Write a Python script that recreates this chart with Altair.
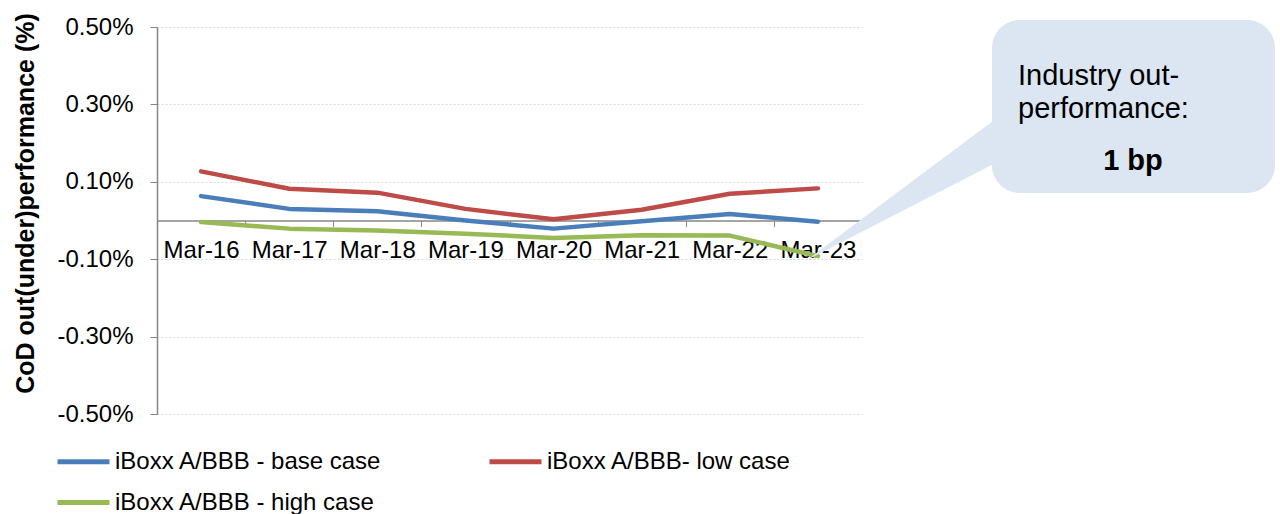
import altair as alt
import pandas as pd

categories = ["Mar-16", "Mar-17", "Mar-18", "Mar-19", "Mar-20", "Mar-21", "Mar-22", "Mar-23"]
base_case = [0.063, 0.030, 0.024, 0.000, -0.021, -0.002, 0.017, -0.003]
low_case = [0.127, 0.082, 0.072, 0.030, 0.003, 0.028, 0.069, 0.083]
high_case = [-0.004, -0.021, -0.026, -0.034, -0.045, -0.038, -0.039, -0.092]
series_names = ["iBoxx A/BBB - base case", "iBoxx A/BBB- low case", "iBoxx A/BBB - high case"]
series_colors = ["#4A7EBB", "#BE4B48", "#98B954"]
y_ticks = [-0.5, -0.3, -0.1, 0.1, 0.3, 0.5]
callout_lines = ["Industry out-", "performance:"]
callout_value = "1 bp"
y_title = "CoD out(under)performance (%)"

rows = []
for i, (name, vals) in enumerate(zip(series_names, [base_case, low_case, high_case])):
    for c, v in zip(categories, vals):
        rows.append({"cat": c, "value": v, "series": name, "order": i})
df = pd.DataFrame(rows)
one = pd.DataFrame({"k": [0]})

W, H = 705, 387
FONT = "Liberation Sans"

lines = alt.Chart(df).mark_line(strokeWidth=4.5, strokeCap="round", strokeJoin="round").encode(
    x=alt.X("cat:N", sort=categories, bandPosition=0.5,
            scale=alt.Scale(type="band", paddingInner=0, paddingOuter=0),
            axis=alt.Axis(title=None, orient="bottom", offset=-H / 2, tickBand="extent",
                          labelAngle=0, labelFontSize=24, labelFont=FONT, labelColor="black",
                          labelPadding=12, tickSize=6, tickColor="#868686",
                          domainColor="#868686", domainWidth=1.5, grid=False)),
    y=alt.Y("value:Q", scale=alt.Scale(domain=[-0.5, 0.5], nice=False),
            axis=alt.Axis(values=y_ticks, title=y_title,
                          labelExpr="(datum.value < 0 ? '-' : '') + format(abs(datum.value), '.2f') + '%'",
                          labelFontSize=24, labelFont=FONT, labelColor="black", labelPadding=17,
                          tickSize=7, tickColor="#868686", domainColor="#868686", domainWidth=1.5,
                          gridColor="#D9D9D9", gridDash=[2, 2], gridWidth=1,
                          titleFont=FONT, titleFontSize=25, titleFontWeight="bold", titleColor="black",
                          titleAngle=270, titleBaseline="alphabetic", titleAlign="center",
                          titleX=-124, titleY=176)),
    color=alt.Color("series:N",
                    scale=alt.Scale(domain=series_names, range=series_colors),
                    legend=alt.Legend(orient="none", legendX=-102, legendY=406, columns=2,
                                      direction="horizontal", values=series_names,
                                      title=None, symbolType="stroke", symbolSize=2704,
                                      symbolStrokeWidth=5, labelFontSize=24, labelFont=FONT,
                                      labelColor="black", labelLimit=0, labelOffset=3,
                                      columnPadding=97, rowPadding=-1)),
    detail="order:O",
)

pointer = alt.Chart(one).mark_point(
    shape="M0,0 L210,-157 L210,-108 Z", size=4, filled=True, opacity=1,
    color="#DCE6F2", strokeWidth=0
).encode(x=alt.value(650), y=alt.value(233))

box = alt.Chart(one).mark_rect(cornerRadius=28, color="#DCE6F2").encode(
    x=alt.value(835), x2=alt.value(1118), y=alt.value(-7), y2=alt.value(166))

t1 = alt.Chart(one).mark_text(align="left", baseline="alphabetic", fontSize=29, font=FONT, color="black").encode(
    x=alt.value(861), y=alt.value(58), text=alt.value(callout_lines[0]))
t2 = alt.Chart(one).mark_text(align="left", baseline="alphabetic", fontSize=29, font=FONT, color="black").encode(
    x=alt.value(861), y=alt.value(91), text=alt.value(callout_lines[1]))
t3 = alt.Chart(one).mark_text(align="center", baseline="alphabetic", fontSize=29, font=FONT,
                              fontWeight="bold", color="black").encode(
    x=alt.value(976), y=alt.value(143), text=alt.value(callout_value))

chart = alt.layer(lines, pointer, box, t1, t2, t3).properties(
    width=W, height=H,
    autosize=alt.AutoSizeParams(type="none"),
    padding={"left": 157, "top": 27, "right": 418, "bottom": 100},
).configure_view(strokeWidth=0)

chart.save("out.html", embed_options={"renderer": "svg", "actions": False})
